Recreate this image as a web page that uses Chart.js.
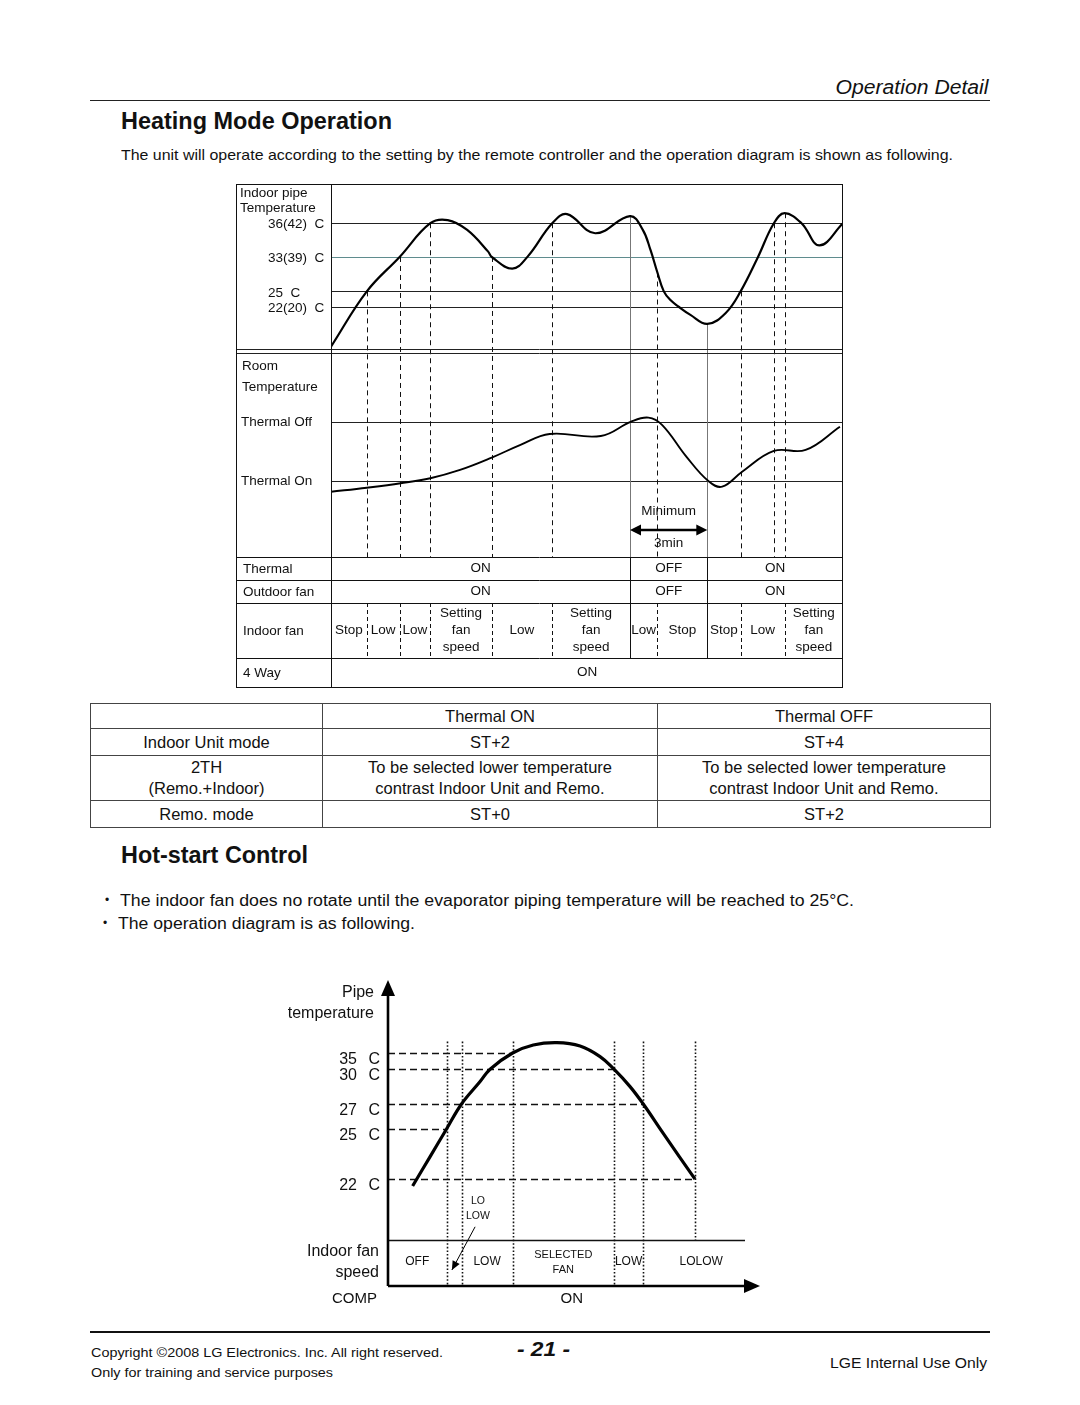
<!DOCTYPE html>
<html>
<head>
<meta charset="utf-8">
<title>Heating Mode Operation</title>
<script src="https://cdn.jsdelivr.net/npm/chart.js@4.4.1/dist/chart.umd.min.js"></script>
<style>
  html, body { margin: 0; padding: 0; background: #fff; }
  #page { position: relative; width: 1080px; height: 1405px; overflow: hidden;
          font-family: "Liberation Sans", Arial, Helvetica, sans-serif; color: #111; }
  .t { position: absolute; white-space: nowrap; line-height: 1; }
  .rule { position: absolute; left: 90px; width: 900px; background: #222; }
  #modeTable { position: absolute; left: 90px; top: 703px; width: 900px; border-collapse: collapse;
               font-size: 16.5px; table-layout: fixed; }
  #modeTable td { border: 1px solid #444; text-align: center; vertical-align: middle; padding: 0; line-height: 21px; }
  canvas { position: absolute; }
</style>
</head>
<body>
<div id="page">
  <div class="t" data-w="153" data-o="right" style="right:91px;top:77px;font-size:20px;font-style:italic">Operation Detail</div>
  <div class="rule" style="top:100px;height:1px"></div>
  <div class="t" data-w="271" style="left:121px;top:110px;font-size:23px;font-weight:bold">Heating Mode Operation</div>
  <div class="t" data-w="832" style="left:121px;top:147px;font-size:15px">The unit will operate according to the setting by the remote controller and the operation diagram is shown as following.</div>

  <canvas id="heatChart" width="607" height="504" style="left:236px;top:184px"></canvas>

  <table id="modeTable"></table>

  <div class="t" data-w="187" style="left:121px;top:844px;font-size:23px;font-weight:bold">Hot-start Control</div>
  <div class="t" style="left:105px;top:894px;font-size:12px">•</div>
  <div class="t" data-w="734" style="left:120px;top:893px;font-size:16px">The indoor fan does no rotate until the evaporator piping temperature will be reached to 25°C.</div>
  <div class="t" style="left:103px;top:917px;font-size:12px">•</div>
  <div class="t" data-w="297" style="left:118px;top:916px;font-size:16px">The operation diagram is as following.</div>

  <canvas id="hotChart" width="490" height="340" style="left:280px;top:970px"></canvas>

  <div class="rule" style="top:1331px;height:2px;background:#111"></div>
  <div class="t" data-w="352" style="left:91px;top:1346px;font-size:13px">Copyright ©2008 LG Electronics. Inc. All right reserved.</div>
  <div class="t" data-w="242" style="left:91px;top:1366px;font-size:13px">Only for training and service purposes</div>
  <div class="t" data-w="53" style="left:517px;top:1339px;font-size:20px;font-weight:bold;font-style:italic">- 21 -</div>
  <div class="t" data-w="157" data-o="right" style="right:93px;top:1355px;font-size:15px">LGE Internal Use Only</div>
</div>

<script>
// ---------- Heating mode diagram (time 0..100 across the plot, levels 0..100 per panel) ----------
const pipeTime  = [0, 7.0, 13.4, 19.4, 22.8, 26.6, 30.7, 31.4, 35.4, 38.4, 43.2, 46.1, 51.6, 58.4, 60.9, 62.4, 63.75, 65.0, 66.3, 67.9, 70.2, 73.5, 77.1, 80.0, 83.4, 86.5, 88.6, 91.9, 95.4, 100];
const pipeLevel = [2.6, 35.7, 56.3, 76.5, 78.4, 72.5, 59.5, 56.3, 49.3, 56.5, 76.5, 82.0, 70.5, 80.8, 72.5, 60.5, 47.0, 35.7, 30.5, 26.5, 21.6, 16.2, 22.8, 35.7, 56.3, 76.5, 82.5, 76.5, 63.2, 76.5];

const roomTime  = [0, 7.0, 13.6, 19.4, 25.2, 31.4, 36.9, 42.7, 52.7, 58.6, 62.0, 64.7, 69.4, 73.7, 76.4, 80.3, 86.5, 92.7, 99.4];
const roomLevel = [32.3, 34.3, 36.5, 39.0, 43.1, 49.2, 55.4, 60.9, 59.9, 67.0, 69.0, 65.3, 49.7, 37.6, 34.8, 42.2, 52.5, 53.0, 64.5];

const pipeLimitLabels = ['36(42)', '33(39)', '25', '22(20)'];
const pipeLimitLevels = [76.5, 56.3, 35.7, 26.2];
const roomLimitLabels = ['Thermal Off', 'Thermal On'];
const roomLimitLevels = [66.7, 37.6];

const eventTimes = [7.0, 13.4, 19.4, 31.4, 43.2, 58.4, 63.75, 73.5, 80.0, 86.5, 88.6];
const minOffSpan = [58.4, 73.5];

const tableLabels   = ['Thermal', 'Outdoor fan', 'Indoor fan', '4 Way'];
const thermalBreaks = [0, 58.4, 73.5, 100];
const thermalStates = ['ON', 'OFF', 'ON'];
const outdoorStates = ['ON', 'OFF', 'ON'];
const fanBreaks = [0, 7.0, 13.4, 19.4, 31.4, 43.2, 58.4, 63.75, 73.5, 80.0, 88.6, 100];
const fanStates = ['Stop', 'Low', 'Low', 'Setting\nfan\nspeed', 'Low', 'Setting\nfan\nspeed', 'Low', 'Stop', 'Stop', 'Low', 'Setting\nfan\nspeed'];
const fourWayState = 'ON';

// ---------- Thermal ON/OFF table ----------
const modeColumns       = ['', 'Thermal ON', 'Thermal OFF'];
const modeNames         = ['Indoor Unit mode', '2TH\n(Remo.+Indoor)', 'Remo. mode'];
const thermalOnSetting  = ['ST+2', 'To be selected lower temperature\ncontrast Indoor Unit and Remo.', 'ST+0'];
const thermalOffSetting = ['ST+4', 'To be selected lower temperature\ncontrast Indoor Unit and Remo.', 'ST+2'];

// ---------- Hot-start diagram ----------
const hotTime  = [6.9, 11.8, 16.4, 20.6, 25.8, 28.6, 34.9, 40.7, 47.3, 53.8, 59.4, 63.3, 67.8, 71.5, 77.1, 86.0];
const hotLevel = [27.0, 41.7, 55.5, 68.0, 79.2, 85.4, 93.5, 97.5, 98.7, 97.0, 91.7, 85.4, 76.7, 68.0, 53.3, 30.4];
const hotLimitLabels = ['35', '30', '27', '25', '22'];
const hotLimitLevels = [93.5, 85.4, 68.0, 55.5, 30.4];
const hotLimitReach  = [34.9, 63.3, 71.5, 16.4, 86.0];
const hotSwitchTimes = [16.4, 20.6, 34.9, 63.3, 71.5, 86.0];
const hotFanBreaks = [0, 16.4, 20.6, 34.9, 63.3, 71.5, 104];
const hotFanStates = ['OFF', 'LO\nLOW', 'LOW', 'SELECTED\nFAN', 'LOW', 'LOLOW'];
const hotCompState = 'ON';

const FONT = '"Liberation Sans", Arial, Helvetica, sans-serif';

// layout of the heating diagram (px)
const LABEL_W = 95, PLOT_H = 373, PIPE_H = 167, ROOM_H = 202;
const rowHeights = [23, 23, 55, 29];

function label(ctx, str, px, py, size, align, lh, weight) {
  ctx.font = (weight ? weight + ' ' : '') + size + 'px ' + FONT;
  ctx.textAlign = align || 'left';
  ctx.textBaseline = 'middle';
  ctx.fillStyle = '#111';
  const lines = String(str).split('\n');
  const step = lh || size * 1.2;
  lines.forEach((s, i) => ctx.fillText(s, px, py + (i - (lines.length - 1) / 2) * step));
}

function hLine(ctx, x1, x2, y, color, w) {
  const yy = Math.round(y) + 0.5;
  ctx.strokeStyle = color; ctx.lineWidth = w;
  ctx.beginPath(); ctx.moveTo(x1, yy); ctx.lineTo(x2, yy); ctx.stroke();
}

function vLine(ctx, x, y1, y2, color, w, dash) {
  const xx = Math.round(x) + 0.5;
  ctx.strokeStyle = color; ctx.lineWidth = w;
  ctx.setLineDash(dash || []);
  ctx.beginPath(); ctx.moveTo(xx, y1); ctx.lineTo(xx, y2); ctx.stroke();
  ctx.setLineDash([]);
}

function stateRow(ctx, x, breaks, states, top, h) {
  for (let i = 0; i < states.length; i++) {
    const x1 = x.getPixelForValue(breaks[i]);
    const x2 = x.getPixelForValue(breaks[i + 1]);
    label(ctx, states[i], (x1 + x2) / 2, top + h / 2, 13.5, 'center', 17);
    if (i > 0) {
      const solid = thermalBreaks.includes(breaks[i]);
      vLine(ctx, x1, top, top + h, '#111', 1, solid ? [] : [4, 3]);
    }
  }
}

const heatingPlugin = {
  id: 'heatingDiagram',
  beforeDatasetsDraw(chart) {
    const { ctx, chartArea: a, scales: { x, yPipe, yRoom } } = chart;
    const W = chart.width;
    const pipePts = chart.getDatasetMeta(0).data;
    ctx.save();
    pipeLimitLevels.forEach((lv, i) => hLine(ctx, a.left, a.right, yPipe.getPixelForValue(lv), i === 1 ? '#5f8c8e' : '#222', 1.2));
    roomLimitLevels.forEach(lv => hLine(ctx, a.left, a.right, yRoom.getPixelForValue(lv), '#222', 1.2));

    // switching instants, starting at the pipe curve
    eventTimes.forEach(t => {
      const idx = pipeTime.indexOf(t);
      const top = idx >= 0 ? pipePts[idx].y : a.top;
      const solid = thermalBreaks.includes(t);
      vLine(ctx, x.getPixelForValue(t), top, a.bottom, solid ? '#777' : '#111', 1, solid ? [] : [5, 4]);
    });

    // double rule between the two panels
    const yd = yPipe.getPixelForValue(0);
    hLine(ctx, 0, W, yd - 2, '#222', 1);
    hLine(ctx, 0, W, yd + 1.5, '#222', 1);
    ctx.restore();
  },
  afterDatasetsDraw(chart) {
    const { ctx, chartArea: a, scales: { x, yPipe, yRoom } } = chart;
    const W = chart.width, H = chart.height;
    ctx.save();

    label(ctx, 'Indoor pipe', 4, 9, 13.5);
    label(ctx, 'Temperature', 4, 24, 13.5);
    pipeLimitLabels.forEach((s, i) => label(ctx, s + '  C', 32, yPipe.getPixelForValue(pipeLimitLevels[i]) + 1.5, 13.5));
    const roomTop = yPipe.getPixelForValue(0);
    label(ctx, 'Room', 6, roomTop + 15, 13.5);
    label(ctx, 'Temperature', 6, roomTop + 36, 13.5);
    roomLimitLabels.forEach((s, i) => label(ctx, s, 5, yRoom.getPixelForValue(roomLimitLevels[i]), 13.5));

    // minimum off time arrow
    const ax1 = x.getPixelForValue(minOffSpan[0]), ax2 = x.getPixelForValue(minOffSpan[1]);
    const ay = yRoom.getPixelForValue(13.4);
    ctx.strokeStyle = '#000'; ctx.lineWidth = 2.4;
    ctx.beginPath(); ctx.moveTo(ax1 + 8, ay); ctx.lineTo(ax2 - 8, ay); ctx.stroke();
    ctx.fillStyle = '#000';
    [[ax1, 1], [ax2, -1]].forEach(([px, d]) => {
      ctx.beginPath(); ctx.moveTo(px, ay); ctx.lineTo(px + d * 11, ay - 5.5); ctx.lineTo(px + d * 11, ay + 5.5); ctx.closePath(); ctx.fill();
    });
    label(ctx, 'Minimum', (ax1 + ax2) / 2, ay - 19, 13.5, 'center');
    label(ctx, '3min', (ax1 + ax2) / 2, ay + 13, 13.5, 'center');

    // state table
    const rowTop = [a.bottom];
    rowHeights.forEach(h => rowTop.push(rowTop[rowTop.length - 1] + h));
    for (let i = 0; i < rowHeights.length; i++) hLine(ctx, 0, W, rowTop[i], '#111', 1);
    tableLabels.forEach((s, i) => label(ctx, s, 7, rowTop[i] + rowHeights[i] / 2 + 1, 13.5));
    stateRow(ctx, x, thermalBreaks, thermalStates, rowTop[0], rowHeights[0]);
    stateRow(ctx, x, thermalBreaks, outdoorStates, rowTop[1], rowHeights[1]);
    stateRow(ctx, x, fanBreaks, fanStates, rowTop[2], rowHeights[2]);
    stateRow(ctx, x, [0, 100], [fourWayState], rowTop[3], rowHeights[3]);

    // frame
    ctx.strokeStyle = '#111'; ctx.lineWidth = 1;
    ctx.strokeRect(0.5, 0.5, W - 1, H - 1);
    vLine(ctx, a.left, 0, H, '#111', 1);
    ctx.restore();
  }
};

new Chart(document.getElementById('heatChart'), {
  type: 'line',
  data: {
    datasets: [{
      label: 'Indoor pipe temperature',
      data: pipeTime.map((t, i) => ({ x: t, y: pipeLevel[i] })),
      yAxisID: 'yPipe',
      borderColor: '#000', borderWidth: 2.2, pointRadius: 0, fill: false,
      tension: 0.4
    }, {
      label: 'Room temperature',
      data: roomTime.map((t, i) => ({ x: t, y: roomLevel[i] })),
      yAxisID: 'yRoom',
      borderColor: '#000', borderWidth: 1.9, pointRadius: 0, fill: false,
      tension: 0.4
    }]
  },
  options: {
    responsive: false,
    animation: false,
    events: [],
    layout: { padding: { left: LABEL_W, right: 0, top: 0, bottom: 504 - PLOT_H } },
    plugins: { legend: { display: false }, tooltip: { enabled: false } },
    scales: {
      x: { type: 'linear', min: 0, max: 100, display: false },
      yPipe: { type: 'linear', min: 100 - 100 * PLOT_H / PIPE_H, max: 100, display: false },
      yRoom: { type: 'linear', min: 0, max: 100 * PLOT_H / ROOM_H, display: false }
    }
  },
  plugins: [heatingPlugin]
});

// ---------- table ----------
const table = document.getElementById('modeTable');
const colW = [232, 335, 333];
const rowH = [25, 27, 45, 27];
const rows = [modeColumns].concat(modeNames.map((n, i) => [n, thermalOnSetting[i], thermalOffSetting[i]]));
rows.forEach((r, i) => {
  const tr = table.insertRow();
  r.forEach((c, j) => {
    const td = tr.insertCell();
    td.style.height = (rowH[i] - 1) + 'px';
    if (i === 0) td.style.width = (colW[j] - 1) + 'px';
    td.innerHTML = c.split('\n').join('<br>');
  });
});

// ---------- hot-start chart ----------
const hotPlugin = {
  id: 'hotStart',
  beforeDatasetsDraw(chart) {
    const { ctx, chartArea: a, scales: { x, y } } = chart;
    const fanTop = y.getPixelForValue(0);
    ctx.save();
    ctx.strokeStyle = '#111'; ctx.lineWidth = 1.6;
    ctx.setLineDash([7, 4]);
    hotLimitLevels.forEach((lv, i) => {
      const py = Math.round(y.getPixelForValue(lv)) + 0.5;
      ctx.beginPath(); ctx.moveTo(a.left, py); ctx.lineTo(x.getPixelForValue(hotLimitReach[i]), py); ctx.stroke();
    });
    ctx.setLineDash([1.6, 2]);
    hotSwitchTimes.forEach((t, i) => {
      const px = Math.round(x.getPixelForValue(t)) + 0.5;
      // the last switch ends the fan rows, so its guide stops at the fan row
      const bottom = i === hotSwitchTimes.length - 1 ? fanTop : a.bottom;
      ctx.beginPath(); ctx.moveTo(px, y.getPixelForValue(99.2)); ctx.lineTo(px, bottom); ctx.stroke();
    });
    ctx.setLineDash([]);
    hLine(ctx, a.left, x.getPixelForValue(100), fanTop, '#111', 1.6);

    // axes with arrow heads
    const tipX = x.getPixelForValue(104.2);
    ctx.strokeStyle = '#000'; ctx.fillStyle = '#000'; ctx.lineWidth = 2.6;
    ctx.beginPath(); ctx.moveTo(a.left, a.bottom); ctx.lineTo(a.left, a.top + 12); ctx.stroke();
    ctx.beginPath(); ctx.moveTo(a.left, a.top); ctx.lineTo(a.left - 7, a.top + 16); ctx.lineTo(a.left + 7, a.top + 16); ctx.closePath(); ctx.fill();
    ctx.beginPath(); ctx.moveTo(a.left, a.bottom); ctx.lineTo(tipX - 12, a.bottom); ctx.stroke();
    ctx.beginPath(); ctx.moveTo(tipX, a.bottom); ctx.lineTo(tipX - 16, a.bottom - 7); ctx.lineTo(tipX - 16, a.bottom + 7); ctx.closePath(); ctx.fill();
    ctx.restore();
  },
  afterDatasetsDraw(chart) {
    const { ctx, chartArea: a, scales: { x, y } } = chart;
    ctx.save();
    label(ctx, 'Pipe', 94, 23, 16, 'right');
    label(ctx, 'temperature', 94, 44, 16, 'right');
    hotLimitLabels.forEach((s, i) => {
      const py = y.getPixelForValue(hotLimitLevels[i]) + 6.5;
      label(ctx, s, 77, py, 16, 'right');
      label(ctx, 'C', 100, py, 16, 'right');
    });
    label(ctx, 'Indoor fan', 99, 282, 16, 'right');
    label(ctx, 'speed', 99, 303, 16, 'right');
    label(ctx, 'COMP', 97, 329, 15, 'right');
    label(ctx, hotCompState, x.getPixelForValue(51.5), 329, 15, 'center');

    for (let i = 0; i < hotFanStates.length; i++) {
      const cx = (x.getPixelForValue(hotFanBreaks[i]) + x.getPixelForValue(hotFanBreaks[i + 1])) / 2;
      const s = hotFanStates[i];
      if (s === 'LO\nLOW') {
        // too narrow: label above the row with a pointer
        label(ctx, s, x.getPixelForValue(25.2), y.getPixelForValue(15.7), 10.5, 'center', 15);
        const p1x = x.getPixelForValue(24.4), p1y = y.getPixelForValue(6.6);
        const p2x = x.getPixelForValue(17.9), p2y = y.getPixelForValue(-15);
        ctx.strokeStyle = '#000'; ctx.lineWidth = 1;
        ctx.beginPath(); ctx.moveTo(p1x, p1y); ctx.lineTo(p2x, p2y); ctx.stroke();
        const ang = Math.atan2(p2y - p1y, p2x - p1x);
        ctx.fillStyle = '#000';
        ctx.beginPath(); ctx.moveTo(p2x, p2y);
        ctx.lineTo(p2x - 9 * Math.cos(ang) + 4 * Math.sin(ang), p2y - 9 * Math.sin(ang) - 4 * Math.cos(ang));
        ctx.lineTo(p2x - 9 * Math.cos(ang) - 4 * Math.sin(ang), p2y - 9 * Math.sin(ang) + 4 * Math.cos(ang));
        ctx.closePath(); ctx.fill();
      } else if (s.includes('\n')) {
        label(ctx, s, cx, y.getPixelForValue(-11), 11, 'center', 15);
      } else {
        label(ctx, s, cx, y.getPixelForValue(-11), 12, 'center');
      }
    }
    ctx.restore();
  }
};

new Chart(document.getElementById('hotChart'), {
  type: 'line',
  data: {
    datasets: [{
      label: 'Pipe temperature',
      data: hotTime.map((t, i) => ({ x: t, y: hotLevel[i] })),
      borderColor: '#000', borderWidth: 3.2, pointRadius: 0, fill: false,
      tension: 0.4
    }]
  },
  options: {
    responsive: false,
    animation: false,
    events: [],
    layout: { padding: { left: 108, right: 25, top: 10, bottom: 24 } },
    plugins: { legend: { display: false }, tooltip: { enabled: false } },
    scales: {
      x: { type: 'linear', min: 0, max: 100, display: false },
      y: { type: 'linear', min: -23, max: 130, display: false }
    }
  },
  plugins: [hotPlugin]
});

// squeeze/stretch page texts to the widths they have in the printed page
document.querySelectorAll('[data-w]').forEach(el => {
  const w = el.getBoundingClientRect().width;
  el.style.transformOrigin = (el.dataset.o || 'left') + ' center';
  el.style.transform = 'scaleX(' + (parseFloat(el.dataset.w) / w).toFixed(4) + ')';
});
</script>
</body>
</html>
